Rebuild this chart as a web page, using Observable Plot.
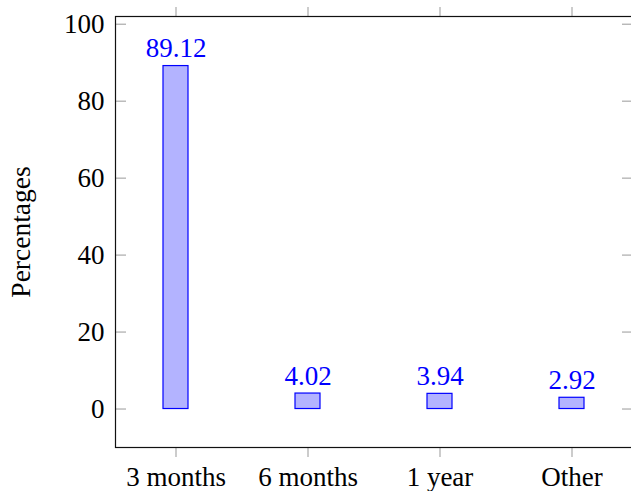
<!DOCTYPE html>
<html>
<head>
<meta charset="utf-8">
<script src="https://cdn.jsdelivr.net/npm/d3@7"></script>
<script src="https://cdn.jsdelivr.net/npm/@observablehq/plot@0.6"></script>
<style>
  html, body { margin: 0; padding: 0; background: #fff; }
</style>
</head>
<body>
<div id="chart"></div>
<script>
const categories = ["3 months", "6 months", "1 year", "Other"];
const values = [89.12, 4.02, 3.94, 2.92];
const yTicks = [0, 20, 40, 60, 80, 100];
const yLabel = "Percentages";

const data = categories.map((c, i) => ({category: c, value: values[i]}));

const W = 631, H = 491, ML = 115, MR = -1, MT = 16, MB = 44;
const frameW = W - ML - MR;

const chart = Plot.plot({
  width: W, height: H,
  marginLeft: ML, marginRight: MR, marginTop: MT, marginBottom: MB,
  style: {fontFamily: "'Liberation Serif', 'Times New Roman', serif", fontSize: "27px", background: "#fff", color: "#000", overflow: "visible"},
  x: {domain: categories, paddingInner: 0.807, paddingOuter: 0.35, label: null},
  y: {domain: [-10, 102], label: null},
  marks: [
    Plot.barY(data, {x: "category", y: "value", fill: "#b3b3ff", stroke: "#0000ff", strokeWidth: 1.2}),
    Plot.text(data, {x: "category", y: "value", text: d => d.value.toFixed(2), fill: "#0000ff", lineAnchor: "bottom", dy: -9, fontSize: 27}),
    Plot.tickY(yTicks, {y: d => d, insetRight: frameW - 11, stroke: "#999"}),
    Plot.tickY(yTicks, {y: d => d, insetLeft: frameW - 10, stroke: "#999"}),
    Plot.axisY({ticks: yTicks, tickSize: 0, tickPadding: 11, label: null, fontSize: 27}),
    Plot.axisX({anchor: "bottom", tickSize: 10, tickPadding: 9, stroke: "#999", label: null, fontSize: 27}),
    Plot.axisX({anchor: "top", tickSize: 10, tickFormat: () => "", stroke: "#999", label: null}),
    Plot.frame({stroke: "#111", strokeWidth: 1.2}),
    Plot.text([yLabel], {frameAnchor: "left", textAnchor: "middle", rotate: -90, dx: -94, fontSize: 27.5, fill: "#000"})
  ]
});
document.getElementById("chart").appendChild(chart);
</script>
</body>
</html>
